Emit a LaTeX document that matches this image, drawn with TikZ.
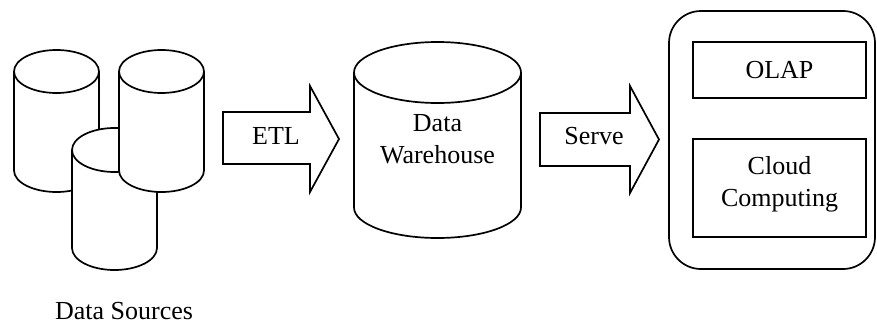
\documentclass[tikz,border=0pt]{standalone}
\usepackage{fontspec}
\setmainfont{Liberation Serif}
\usepackage{tikz}

\begin{document}
\begin{tikzpicture}[x=1pt,y=1pt,line width=1.7pt,
    db/.style={draw,fill=white},
    lbl/.style={font=\fontsize{26}{32}\selectfont,align=center,inner sep=0pt}]
          \useasboundingbox (0,0) rectangle (877,325);
          % data sources
          \draw[db] (14,253.5) -- (14,154.5) arc (180:360:42.5 and 21.5) -- (99,253.5) arc (0:180:42.5 and 21.5) -- cycle;
          \draw (14,253.5) arc (180:360:42.5 and 21.5);
          \draw[db] (72,175) -- (72,77) arc (180:360:42.5 and 22) -- (157,175) arc (0:180:42.5 and 22) -- cycle;
          \draw (72,175) arc (180:360:42.5 and 22);
          \draw[db] (119,253.5) -- (119,154.5) arc (180:360:42.5 and 21.5) -- (204,253.5) arc (0:180:42.5 and 21.5) -- cycle;
          \draw (119,253.5) arc (180:360:42.5 and 21.5);
          \node[lbl] (sources) at (124,14) {Data Sources};
          % ETL arrow
          \draw[db] (223,213) -- (310,213) -- (310,239) -- (339,186) -- (310,133) -- (310,161) -- (223,161) -- cycle;
          \node[lbl] (etl) at (276,189) {ETL};
          % warehouse
          \draw[db] (354,252.5) -- (354,117.5) arc (180:360:83.5 and 30.5) -- (521,252.5) arc (0:180:83.5 and 30.5) -- cycle;
          \draw (354,252.5) arc (180:360:83.5 and 30.5);
          \node[lbl] (dw) at (437.5,186) {Data\\Warehouse};
          % serve arrow
          \draw[db] (540,212) -- (630,212) -- (630,239) -- (659,185.5) -- (630,132) -- (630,159) -- (540,159) -- cycle;
          \node[lbl] (serve) at (594,189) {Serve};
          % applications
          \draw[rounded corners=32pt] (669,56) rectangle (875,314);
          \draw[line width=1.5pt] (693,227) rectangle (866,283);
          \node[lbl] (olap) at (779.5,255) {OLAP};
          \draw[line width=1.5pt] (693,88) rectangle (866,186);
          \node[lbl] (cloud) at (779.5,141) {Cloud\\Computing};
        \end{tikzpicture}
\end{document}
